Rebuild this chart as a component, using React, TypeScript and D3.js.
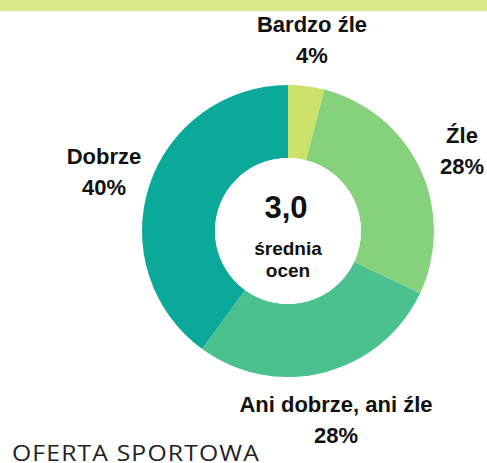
import React from "react";
import * as d3 from "d3";

const categories = ["Bardzo źle", "Źle", "Ani dobrze, ani źle", "Dobrze"];
const values = [4, 28, 28, 40];
const colors = ["#cde26b", "#86d27c", "#4bc18f", "#0ba99a"];
const centerValue = "3,0";
const centerLabel = ["średnia", "ocen"];
const footer = "OFERTA SPORTOWA";

// label anchor positions (center x, first baseline y)
const labelPos: [number, number][] = [
  [312, 32],
  [462, 143],
  [336, 412],
  [104, 164],
];

export default function App() {
  const W = 487, H = 463;
  const cx = 288, cy = 231, rOuter = 146, rInner = 73;
  const pie = d3.pie<number>().sort(null).value((d) => d)(values);
  const arc = d3.arc<d3.PieArcDatum<number>>().innerRadius(rInner).outerRadius(rOuter);
  const font = "'Liberation Sans', Arial, sans-serif";
  return (
    <svg width={W} height={H} style={{ position: "absolute", left: 0, top: 0 }}>
      <rect x={0} y={0} width={W} height={H} fill="#fff" />
      <rect x={0} y={0} width={W} height={11} fill="#d7e98b" />
      <g transform={`translate(${cx},${cy})`}>
        {pie.map((p, i) => (
          <path key={i} d={arc(p) || ""} fill={colors[i]} />
        ))}
        <circle r={rInner} fill="#fff" />
        <text x={-2} y={-13} textAnchor="middle" fontFamily={font} fontWeight="bold" fontSize={31} fill="#111">
          {centerValue}
        </text>
        {centerLabel.map((t, i) => (
          <text key={i} x={0} y={24 + i * 22} textAnchor="middle" fontFamily={font} fontWeight="bold" fontSize={19} fill="#111">
            {t}
          </text>
        ))}
      </g>
      {categories.map((c, i) => (
        <g key={c} fontFamily={font} fontWeight="bold" fontSize={22} fill="#111" textAnchor="middle">
          <text x={labelPos[i][0]} y={labelPos[i][1]}>{c}</text>
          <text x={labelPos[i][0]} y={labelPos[i][1] + 31}>{values[i]}%</text>
        </g>
      ))}
      <g transform="translate(12,460.5) scale(1.15,1)">
        <text x={0} y={0} fontFamily="'Open Sans', sans-serif" fontSize={21.5} letterSpacing={1} fill="#222">
          {footer}
        </text>
      </g>
    </svg>
  );
}
